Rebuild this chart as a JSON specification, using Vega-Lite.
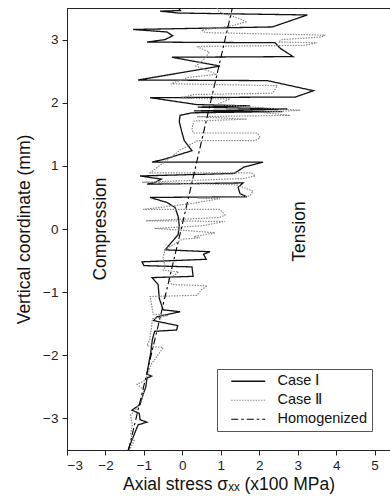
{
  "$schema": "https://vega.github.io/schema/vega-lite/v6.json",
  "width": 323,
  "height": 442,
  "autosize": {"type": "none"},
  "padding": {"left": 67, "top": 8, "right": 0, "bottom": 49},
  "background": "white",
  "config": {
    "view": {"stroke": "#222", "strokeWidth": 1},
    "font": "Liberation Sans",
    "axis": {"grid": false, "domainColor": "#222", "tickColor": "#222", "labelColor": "#222", "titleColor": "#111", "labelFont": "Liberation Sans", "titleFont": "Liberation Sans", "labelFontSize": 13.5, "titleFontSize": 17.5, "titleFontWeight": "normal", "tickSize": 5}
  },
  "datasets": {
    "lines": [
      {"series": "Case Ⅰ", "i": 1, "x": -0.10, "y": 3.50},
      {"series": "Case Ⅰ", "i": 2, "x": -0.05, "y": 3.46},
      {"series": "Case Ⅰ", "i": 3, "x": -0.58, "y": 3.45},
      {"series": "Case Ⅰ", "i": 4, "x": -0.10, "y": 3.42},
      {"series": "Case Ⅰ", "i": 5, "x": 3.25, "y": 3.39},
      {"series": "Case Ⅰ", "i": 6, "x": 2.34, "y": 3.20},
      {"series": "Case Ⅰ", "i": 7, "x": -1.28, "y": 3.16},
      {"series": "Case Ⅰ", "i": 8, "x": -0.40, "y": 3.12},
      {"series": "Case Ⅰ", "i": 9, "x": -0.25, "y": 3.06},
      {"series": "Case Ⅰ", "i": 10, "x": -0.45, "y": 3.00},
      {"series": "Case Ⅰ", "i": 11, "x": -0.92, "y": 2.96},
      {"series": "Case Ⅰ", "i": 12, "x": 2.41, "y": 2.95},
      {"series": "Case Ⅰ", "i": 13, "x": 2.55, "y": 2.86},
      {"series": "Case Ⅰ", "i": 14, "x": 2.88, "y": 2.73},
      {"series": "Case Ⅰ", "i": 15, "x": -0.27, "y": 2.72},
      {"series": "Case Ⅰ", "i": 16, "x": 0.98, "y": 2.58},
      {"series": "Case Ⅰ", "i": 17, "x": -1.15, "y": 2.36},
      {"series": "Case Ⅰ", "i": 18, "x": 2.21, "y": 2.35},
      {"series": "Case Ⅰ", "i": 19, "x": 3.41, "y": 2.19},
      {"series": "Case Ⅰ", "i": 20, "x": 2.94, "y": 2.09},
      {"series": "Case Ⅰ", "i": 21, "x": -0.84, "y": 2.08},
      {"series": "Case Ⅰ", "i": 22, "x": 0.38, "y": 1.97},
      {"series": "Case Ⅰ", "i": 23, "x": 1.76, "y": 1.95},
      {"series": "Case Ⅰ", "i": 24, "x": 0.40, "y": 1.93},
      {"series": "Case Ⅰ", "i": 25, "x": 2.73, "y": 1.90},
      {"series": "Case Ⅰ", "i": 26, "x": 0.30, "y": 1.87},
      {"series": "Case Ⅰ", "i": 27, "x": 2.60, "y": 1.86},
      {"series": "Case Ⅰ", "i": 28, "x": 0.25, "y": 1.84},
      {"series": "Case Ⅰ", "i": 29, "x": -0.06, "y": 1.80},
      {"series": "Case Ⅰ", "i": 30, "x": -0.08, "y": 1.70},
      {"series": "Case Ⅰ", "i": 31, "x": -0.02, "y": 1.55},
      {"series": "Case Ⅰ", "i": 32, "x": 0.05, "y": 1.40},
      {"series": "Case Ⅰ", "i": 33, "x": 0.25, "y": 1.24},
      {"series": "Case Ⅰ", "i": 34, "x": -0.50, "y": 1.10},
      {"series": "Case Ⅰ", "i": 35, "x": -0.79, "y": 1.06},
      {"series": "Case Ⅰ", "i": 36, "x": 2.10, "y": 1.06},
      {"series": "Case Ⅰ", "i": 37, "x": 1.60, "y": 0.98},
      {"series": "Case Ⅰ", "i": 38, "x": 1.35, "y": 0.88},
      {"series": "Case Ⅰ", "i": 39, "x": -1.10, "y": 0.84},
      {"series": "Case Ⅰ", "i": 40, "x": -0.55, "y": 0.79},
      {"series": "Case Ⅰ", "i": 41, "x": -0.70, "y": 0.74},
      {"series": "Case Ⅰ", "i": 42, "x": -0.92, "y": 0.71},
      {"series": "Case Ⅰ", "i": 43, "x": 1.58, "y": 0.73},
      {"series": "Case Ⅰ", "i": 44, "x": 1.45, "y": 0.66},
      {"series": "Case Ⅰ", "i": 45, "x": 1.50, "y": 0.56},
      {"series": "Case Ⅰ", "i": 46, "x": 1.68, "y": 0.51},
      {"series": "Case Ⅰ", "i": 47, "x": -0.84, "y": 0.50},
      {"series": "Case Ⅰ", "i": 48, "x": -0.40, "y": 0.42},
      {"series": "Case Ⅰ", "i": 49, "x": -0.19, "y": 0.34},
      {"series": "Case Ⅰ", "i": 50, "x": -0.11, "y": 0.20},
      {"series": "Case Ⅰ", "i": 51, "x": -0.08, "y": 0.05},
      {"series": "Case Ⅰ", "i": 52, "x": -0.11, "y": -0.09},
      {"series": "Case Ⅰ", "i": 53, "x": -0.45, "y": -0.33},
      {"series": "Case Ⅰ", "i": 54, "x": 0.72, "y": -0.36},
      {"series": "Case Ⅰ", "i": 55, "x": 0.55, "y": -0.40},
      {"series": "Case Ⅰ", "i": 56, "x": 0.62, "y": -0.48},
      {"series": "Case Ⅰ", "i": 57, "x": -1.05, "y": -0.52},
      {"series": "Case Ⅰ", "i": 58, "x": -1.00, "y": -0.58},
      {"series": "Case Ⅰ", "i": 59, "x": 0.25, "y": -0.60},
      {"series": "Case Ⅰ", "i": 60, "x": 0.28, "y": -0.75},
      {"series": "Case Ⅰ", "i": 61, "x": -0.79, "y": -0.77},
      {"series": "Case Ⅰ", "i": 62, "x": -0.63, "y": -0.88},
      {"series": "Case Ⅰ", "i": 63, "x": -0.60, "y": -1.10},
      {"series": "Case Ⅰ", "i": 64, "x": -0.50, "y": -1.28},
      {"series": "Case Ⅰ", "i": 65, "x": -0.06, "y": -1.31},
      {"series": "Case Ⅰ", "i": 66, "x": -0.66, "y": -1.39},
      {"series": "Case Ⅰ", "i": 67, "x": -0.75, "y": -1.45},
      {"series": "Case Ⅰ", "i": 68, "x": -0.12, "y": -1.53},
      {"series": "Case Ⅰ", "i": 69, "x": -0.15, "y": -1.60},
      {"series": "Case Ⅰ", "i": 70, "x": -0.72, "y": -1.62},
      {"series": "Case Ⅰ", "i": 71, "x": -0.78, "y": -1.75},
      {"series": "Case Ⅰ", "i": 72, "x": -0.82, "y": -1.95},
      {"series": "Case Ⅰ", "i": 73, "x": -0.88, "y": -2.15},
      {"series": "Case Ⅰ", "i": 74, "x": -0.92, "y": -2.30},
      {"series": "Case Ⅰ", "i": 75, "x": -0.80, "y": -2.33},
      {"series": "Case Ⅰ", "i": 76, "x": -0.92, "y": -2.36},
      {"series": "Case Ⅰ", "i": 77, "x": -0.95, "y": -2.50},
      {"series": "Case Ⅰ", "i": 78, "x": -1.02, "y": -2.62},
      {"series": "Case Ⅰ", "i": 79, "x": -1.10, "y": -2.78},
      {"series": "Case Ⅰ", "i": 80, "x": -1.31, "y": -2.87},
      {"series": "Case Ⅰ", "i": 81, "x": -1.12, "y": -2.92},
      {"series": "Case Ⅰ", "i": 82, "x": -1.10, "y": -3.02},
      {"series": "Case Ⅰ", "i": 83, "x": -0.92, "y": -3.06},
      {"series": "Case Ⅰ", "i": 84, "x": -1.15, "y": -3.10},
      {"series": "Case Ⅰ", "i": 85, "x": -1.25, "y": -3.25},
      {"series": "Case Ⅰ", "i": 86, "x": -1.35, "y": -3.40},
      {"series": "Case Ⅰ", "i": 87, "x": -1.41, "y": -3.50},

      {"series": "Case Ⅱ", "i": 1, "x": 0.90, "y": 3.50},
      {"series": "Case Ⅱ", "i": 2, "x": 0.95, "y": 3.44},
      {"series": "Case Ⅱ", "i": 3, "x": 1.50, "y": 3.33},
      {"series": "Case Ⅱ", "i": 4, "x": 1.65, "y": 3.28},
      {"series": "Case Ⅱ", "i": 5, "x": 1.30, "y": 3.22},
      {"series": "Case Ⅱ", "i": 6, "x": 0.50, "y": 3.15},
      {"series": "Case Ⅱ", "i": 7, "x": 0.60, "y": 3.11},
      {"series": "Case Ⅱ", "i": 8, "x": 3.72, "y": 3.07},
      {"series": "Case Ⅱ", "i": 9, "x": 3.60, "y": 3.04},
      {"series": "Case Ⅱ", "i": 10, "x": 2.60, "y": 3.00},
      {"series": "Case Ⅱ", "i": 11, "x": 2.50, "y": 2.96},
      {"series": "Case Ⅱ", "i": 12, "x": 3.51, "y": 2.95},
      {"series": "Case Ⅱ", "i": 13, "x": 3.20, "y": 2.91},
      {"series": "Case Ⅱ", "i": 14, "x": 0.38, "y": 2.89},
      {"series": "Case Ⅱ", "i": 15, "x": 0.70, "y": 2.80},
      {"series": "Case Ⅱ", "i": 16, "x": 0.55, "y": 2.68},
      {"series": "Case Ⅱ", "i": 17, "x": 0.35, "y": 2.58},
      {"series": "Case Ⅱ", "i": 18, "x": 0.90, "y": 2.45},
      {"series": "Case Ⅱ", "i": 19, "x": 0.15, "y": 2.40},
      {"series": "Case Ⅱ", "i": 20, "x": -0.30, "y": 2.30},
      {"series": "Case Ⅱ", "i": 21, "x": 2.47, "y": 2.27},
      {"series": "Case Ⅱ", "i": 22, "x": 2.35, "y": 2.15},
      {"series": "Case Ⅱ", "i": 23, "x": 0.30, "y": 2.13},
      {"series": "Case Ⅱ", "i": 24, "x": -0.05, "y": 2.07},
      {"series": "Case Ⅱ", "i": 25, "x": 1.24, "y": 2.06},
      {"series": "Case Ⅱ", "i": 26, "x": 0.90, "y": 1.97},
      {"series": "Case Ⅱ", "i": 27, "x": 3.07, "y": 1.88},
      {"series": "Case Ⅱ", "i": 28, "x": 2.00, "y": 1.85},
      {"series": "Case Ⅱ", "i": 29, "x": 2.80, "y": 1.80},
      {"series": "Case Ⅱ", "i": 30, "x": 0.38, "y": 1.78},
      {"series": "Case Ⅱ", "i": 31, "x": 1.68, "y": 1.74},
      {"series": "Case Ⅱ", "i": 32, "x": 0.30, "y": 1.71},
      {"series": "Case Ⅱ", "i": 33, "x": 0.25, "y": 1.60},
      {"series": "Case Ⅱ", "i": 34, "x": 0.28, "y": 1.52},
      {"series": "Case Ⅱ", "i": 35, "x": 1.95, "y": 1.52},
      {"series": "Case Ⅱ", "i": 36, "x": 2.02, "y": 1.45},
      {"series": "Case Ⅱ", "i": 37, "x": 1.90, "y": 1.40},
      {"series": "Case Ⅱ", "i": 38, "x": 0.40, "y": 1.40},
      {"series": "Case Ⅱ", "i": 39, "x": -0.06, "y": 1.25},
      {"series": "Case Ⅱ", "i": 40, "x": -0.37, "y": 1.10},
      {"series": "Case Ⅱ", "i": 41, "x": -0.78, "y": 0.92},
      {"series": "Case Ⅱ", "i": 42, "x": -0.84, "y": 0.89},
      {"series": "Case Ⅱ", "i": 43, "x": 1.80, "y": 0.89},
      {"series": "Case Ⅱ", "i": 44, "x": 1.90, "y": 0.84},
      {"series": "Case Ⅱ", "i": 45, "x": 1.60, "y": 0.80},
      {"series": "Case Ⅱ", "i": 46, "x": -1.05, "y": 0.74},
      {"series": "Case Ⅱ", "i": 47, "x": 1.40, "y": 0.70},
      {"series": "Case Ⅱ", "i": 48, "x": 1.84, "y": 0.60},
      {"series": "Case Ⅱ", "i": 49, "x": 1.75, "y": 0.52},
      {"series": "Case Ⅱ", "i": 50, "x": 0.40, "y": 0.49},
      {"series": "Case Ⅱ", "i": 51, "x": 0.98, "y": 0.48},
      {"series": "Case Ⅱ", "i": 52, "x": 0.20, "y": 0.40},
      {"series": "Case Ⅱ", "i": 53, "x": -1.02, "y": 0.31},
      {"series": "Case Ⅱ", "i": 54, "x": 0.98, "y": 0.31},
      {"series": "Case Ⅱ", "i": 55, "x": 1.11, "y": 0.22},
      {"series": "Case Ⅱ", "i": 56, "x": 0.95, "y": 0.18},
      {"series": "Case Ⅱ", "i": 57, "x": -0.95, "y": 0.13},
      {"series": "Case Ⅱ", "i": 58, "x": 1.11, "y": 0.12},
      {"series": "Case Ⅱ", "i": 59, "x": 0.50, "y": 0.05},
      {"series": "Case Ⅱ", "i": 60, "x": -0.72, "y": 0.01},
      {"series": "Case Ⅱ", "i": 61, "x": 0.00, "y": -0.02},
      {"series": "Case Ⅱ", "i": 62, "x": 0.85, "y": -0.06},
      {"series": "Case Ⅱ", "i": 63, "x": 0.30, "y": -0.12},
      {"series": "Case Ⅱ", "i": 64, "x": 0.46, "y": -0.14},
      {"series": "Case Ⅱ", "i": 65, "x": 0.00, "y": -0.16},
      {"series": "Case Ⅱ", "i": 66, "x": -0.45, "y": -0.33},
      {"series": "Case Ⅱ", "i": 67, "x": -0.50, "y": -0.45},
      {"series": "Case Ⅱ", "i": 68, "x": -0.45, "y": -0.60},
      {"series": "Case Ⅱ", "i": 69, "x": -0.50, "y": -0.65},
      {"series": "Case Ⅱ", "i": 70, "x": -0.10, "y": -0.68},
      {"series": "Case Ⅱ", "i": 71, "x": -0.35, "y": -0.80},
      {"series": "Case Ⅱ", "i": 72, "x": -0.27, "y": -0.88},
      {"series": "Case Ⅱ", "i": 73, "x": 0.65, "y": -0.90},
      {"series": "Case Ⅱ", "i": 74, "x": 0.50, "y": -0.96},
      {"series": "Case Ⅱ", "i": 75, "x": 0.38, "y": -1.05},
      {"series": "Case Ⅱ", "i": 76, "x": -0.84, "y": -1.07},
      {"series": "Case Ⅱ", "i": 77, "x": -0.80, "y": -1.20},
      {"series": "Case Ⅱ", "i": 78, "x": -0.76, "y": -1.35},
      {"series": "Case Ⅱ", "i": 79, "x": -0.37, "y": -1.37},
      {"series": "Case Ⅱ", "i": 80, "x": -0.78, "y": -1.42},
      {"series": "Case Ⅱ", "i": 81, "x": -0.80, "y": -1.55},
      {"series": "Case Ⅱ", "i": 82, "x": -0.85, "y": -1.75},
      {"series": "Case Ⅱ", "i": 83, "x": -0.92, "y": -1.85},
      {"series": "Case Ⅱ", "i": 84, "x": -0.50, "y": -1.88},
      {"series": "Case Ⅱ", "i": 85, "x": -0.82, "y": -2.15},
      {"series": "Case Ⅱ", "i": 86, "x": -0.88, "y": -2.28},
      {"series": "Case Ⅱ", "i": 87, "x": -0.98, "y": -2.40},
      {"series": "Case Ⅱ", "i": 88, "x": -1.18, "y": -2.46},
      {"series": "Case Ⅱ", "i": 89, "x": -1.00, "y": -2.55},
      {"series": "Case Ⅱ", "i": 90, "x": -1.05, "y": -2.70},
      {"series": "Case Ⅱ", "i": 91, "x": -1.20, "y": -2.85},
      {"series": "Case Ⅱ", "i": 92, "x": -1.35, "y": -2.95},
      {"series": "Case Ⅱ", "i": 93, "x": -1.30, "y": -3.10},
      {"series": "Case Ⅱ", "i": 94, "x": -1.35, "y": -3.25},
      {"series": "Case Ⅱ", "i": 95, "x": -1.25, "y": -3.35},
      {"series": "Case Ⅱ", "i": 96, "x": -1.38, "y": -3.50},

      {"series": "Homogenized", "i": 1, "x": -1.40, "y": -3.50},
      {"series": "Homogenized", "i": 2, "x": -0.03, "y": 0.00},
      {"series": "Homogenized", "i": 3, "x": 1.30, "y": 3.50}
    ],
    "labels": [
      {"text": "Compression", "x": -2.12, "y": 0.0},
      {"text": "Tension", "x": 3.07, "y": -0.04}
    ]
  },
  "layer": [
    {
      "mark": {"type": "rule", "color": "#333", "strokeWidth": 1},
      "encoding": {"x": {"datum": 0, "type": "quantitative"}}
    },
    {
      "data": {"name": "lines"},
      "mark": {"type": "line", "clip": true},
      "encoding": {
        "x": {
          "field": "x", "type": "quantitative",
          "scale": {"domain": [-3, 5.4], "nice": false, "zero": false},
          "axis": {
            "title": "Axial stress σₓₓ (x100 MPa)",
            "values": [-3, -2.5, -2, -1.5, -1, -0.5, 0, 0.5, 1, 1.5, 2, 2.5, 3, 3.5, 4, 4.5, 5],
            "labelExpr": "datum.value % 1 === 0 ? format(datum.value, 'd') : ''",
            "labelPadding": 3,
            "titlePadding": 4
          }
        },
        "y": {
          "field": "y", "type": "quantitative",
          "scale": {"domain": [-3.5, 3.5], "nice": false, "zero": false},
          "axis": {
            "title": "Vertical coordinate (mm)",
            "values": [-3, -2.5, -2, -1.5, -1, -0.5, 0, 0.5, 1, 1.5, 2, 2.5, 3],
            "labelExpr": "datum.value % 1 === 0 ? format(datum.value, 'd') : ''",
            "labelPadding": 4,
            "titlePadding": 9
          }
        },
        "order": {"field": "i", "type": "quantitative"},
        "color": {
          "field": "series", "type": "nominal",
          "scale": {"domain": ["Case Ⅰ", "Case Ⅱ", "Homogenized"], "range": ["#111111", "#8a8a8a", "#000000"]},
          "legend": {
            "title": null, "orient": "none", "legendX": 150, "legendY": 361,
            "strokeColor": "#555", "fillColor": "white", "padding": 5,
            "symbolType": "M0.5,0H9", "symbolSize": 64,
            "labelFontSize": 14.5, "labelFont": "Liberation Sans", "labelColor": "#111",
            "rowPadding": 4, "labelOffset": 41
          }
        },
        "strokeDash": {
          "field": "series", "type": "nominal",
          "scale": {"domain": ["Case Ⅰ", "Case Ⅱ", "Homogenized"], "range": [[1, 0], [1.5, 1.2], [7, 3, 2.5, 3]]}
        },
        "strokeWidth": {
          "field": "series", "type": "ordinal",
          "scale": {"domain": ["Case Ⅰ", "Case Ⅱ", "Homogenized"], "range": [1.3, 1.1, 3.2]}
        }
      }
    },
    {
      "data": {"name": "labels"},
      "mark": {"type": "text", "angle": 270, "align": "center", "baseline": "middle", "fontSize": 17.5, "font": "Liberation Sans", "color": "#111"},
      "encoding": {
        "x": {"field": "x", "type": "quantitative"},
        "y": {"field": "y", "type": "quantitative"},
        "text": {"field": "text"}
      }
    }
  ]
}
